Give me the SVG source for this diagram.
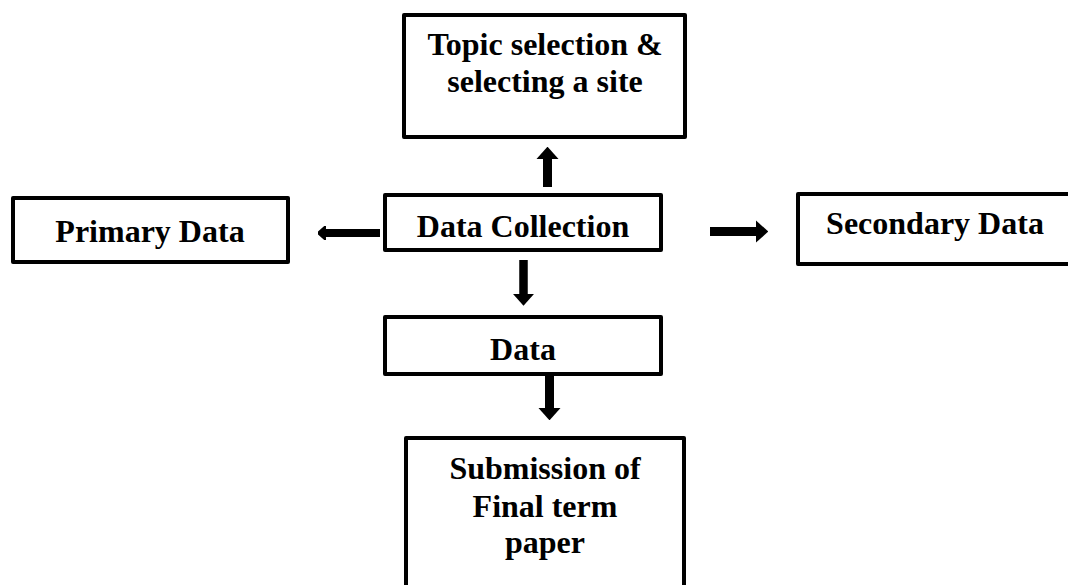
<svg xmlns="http://www.w3.org/2000/svg" width="1068" height="585" viewBox="0 0 1068 585">
  <style>
    .box { fill: #ffffff; stroke: #000000; stroke-width: 4; stroke-linejoin: round; }
    .label { font-family: "Liberation Serif", "Times New Roman", serif; font-weight: bold; font-size: 32px; fill: #000000; text-anchor: middle; }
    .shaft { stroke: #000000; fill: none; stroke-linecap: butt; }
  </style>
  <defs>
    <marker id="head" viewBox="0 0 10 10" refX="1" refY="5" markerUnits="strokeWidth" markerWidth="1.4" markerHeight="2.5" preserveAspectRatio="none" orient="auto">
      <path d="M0,0 L10,5 L0,10 Z" fill="#000000"/>
    </marker>
    <marker id="head-small" viewBox="0 0 10 10" refX="1" refY="5" markerUnits="strokeWidth" markerWidth="1.0" markerHeight="1.8" preserveAspectRatio="none" orient="auto">
      <path d="M0,0 L10,5 L0,10 Z" fill="#000000" stroke="#000000" stroke-width="1.5" stroke-linejoin="round"/>
    </marker>
  </defs>

  <rect width="1068" height="585" fill="#ffffff"/>

  <g id="connectors">
    <line class="shaft" x1="547.5" y1="187" x2="547.5" y2="158" stroke-width="9" marker-end="url(#head)"/>
    <line class="shaft" x1="380" y1="233" x2="325" y2="233" stroke-width="8" marker-end="url(#head-small)"/>
    <line class="shaft" x1="710" y1="231.5" x2="757" y2="231.5" stroke-width="9" marker-end="url(#head)"/>
    <line class="shaft" x1="523.5" y1="260" x2="523.5" y2="295" stroke-width="8.5" marker-end="url(#head)"/>
    <line class="shaft" x1="549.5" y1="375" x2="549.5" y2="409" stroke-width="9" marker-end="url(#head)"/>
  </g>

  <g id="node-topic">
    <rect class="box" x="404" y="15" width="281" height="122"/>
    <text class="label" x="545" y="55">Topic selection &amp;</text>
    <text class="label" x="545" y="92">selecting a site</text>
  </g>

  <g id="node-primary">
    <rect class="box" x="13" y="198" width="275" height="64"/>
    <text class="label" x="150" y="242">Primary Data</text>
  </g>

  <g id="node-collection">
    <rect class="box" x="385" y="195" width="276" height="55"/>
    <text class="label" x="523" y="237">Data Collection</text>
  </g>

  <g id="node-secondary">
    <rect class="box" x="798" y="194" width="300" height="70"/>
    <text class="label" x="935" y="234">Secondary Data</text>
  </g>

  <g id="node-data">
    <rect class="box" x="385" y="317" width="276" height="57"/>
    <text class="label" x="523" y="360">Data</text>
  </g>

  <g id="node-submission">
    <rect class="box" x="406" y="438" width="278" height="200"/>
    <text class="label" x="545" y="479">Submission of</text>
    <text class="label" x="545" y="517">Final term</text>
    <text class="label" x="545" y="553">paper</text>
  </g>
</svg>
